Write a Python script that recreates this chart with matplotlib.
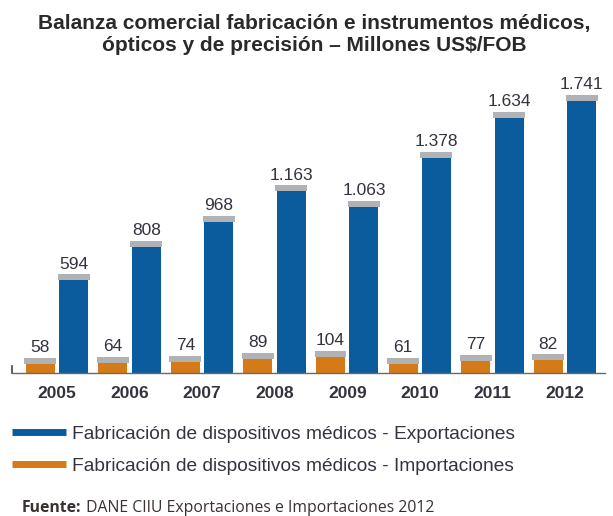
import matplotlib
matplotlib.use("Agg")
import matplotlib.pyplot as plt
from matplotlib import font_manager
from matplotlib.lines import Line2D
from matplotlib.text import Annotation
import numpy as np

years = ["2005", "2006", "2007", "2008", "2009", "2010", "2011", "2012"]
exportaciones = [594, 808, 968, 1163, 1063, 1378, 1634, 1741]
importaciones = [58, 64, 74, 89, 104, 61, 77, 82]
export_labels = ["594", "808", "968", "1.163", "1.063", "1.378", "1.634", "1.741"]
import_labels = ["58", "64", "74", "89", "104", "61", "77", "82"]

names = {f.name for f in font_manager.fontManager.ttflist}
narrow = "Liberation Sans Narrow" if "Liberation Sans Narrow" in names else "Liberation Sans"

BLUE = "#0b5c9c"
ORANGE = "#d47a17"
GREY = "#b1b2b6"
TXT = "#333340"

fig = plt.figure(figsize=(6.13, 5.16), dpi=100)
ax = fig.add_axes([0.0196, 0.277, 0.967, 0.6056])

x = np.arange(len(years))
w = 0.40
off = 0.23
cap = 38
ax.bar(x - off, importaciones, width=w, color=ORANGE, zorder=2)
ax.bar(x + off, exportaciones, width=w, color=BLUE, zorder=2)
ax.bar(x - off, cap, width=w + 0.04, bottom=importaciones, color=GREY, zorder=3)
ax.bar(x + off, cap, width=w + 0.04, bottom=exportaciones, color=GREY, zorder=3)

for xi, v, lab in zip(x, importaciones, import_labels):
    ax.annotate(lab, (xi - off, v + cap), xytext=(0, 2), textcoords="offset points",
                ha="center", va="bottom", fontsize=12.5, color=TXT, family=narrow)
for xi, v, lab in zip(x, exportaciones, export_labels):
    ax.annotate(lab, (xi + off, v + cap), xytext=(0, 2), textcoords="offset points",
                ha="center", va="bottom", fontsize=12.5, color=TXT, family=narrow)

ax.set_xlim(-0.62, 7.55)
ax.set_ylim(0, 2000)
ax.set_xticks(x)
ax.set_xticklabels(years, fontsize=12.5, fontweight="bold", color=TXT, family="Liberation Sans")
ax.tick_params(axis="x", length=0, pad=9)
ax.set_yticks([])
for s in ["top", "right"]:
    ax.spines[s].set_visible(False)
ax.spines["bottom"].set_color("#6a6a6a")
ax.spines["bottom"].set_linewidth(1.0)
ax.spines["left"].set_bounds(0, 45)
ax.spines["left"].set_color("#444444")
ax.spines["left"].set_linewidth(1.2)

fig.text(0.512, 0.934, "Balanza comercial fabricación e instrumentos médicos,\nópticos y de precisión – Millones US$/FOB",
         ha="center", va="center", fontsize=15, fontweight="bold", color="#2a2a2a",
         family=narrow, linespacing=1.2)

handles = [Line2D([0], [0], color=BLUE, lw=5, solid_capstyle="butt"),
           Line2D([0], [0], color=ORANGE, lw=5, solid_capstyle="butt")]
leg = fig.legend(handles, ["Fabricación de dispositivos médicos - Exportaciones",
                           "Fabricación de dispositivos médicos - Importaciones"],
                 loc="upper left", bbox_to_anchor=(0.02, 0.175), frameon=False,
                 borderpad=0, borderaxespad=0,
                 handlelength=2.8, handletextpad=0.3, labelspacing=0.75,
                 prop={"family": narrow, "size": 13.8})
for t in leg.get_texts():
    t.set_color(TXT)

t1 = fig.text(0.036, 0.0, "Fuente:", ha="left", va="bottom", fontsize=11.3, fontweight="bold",
              color="#3a3030", family="Open Sans")
fig.add_artist(Annotation(" DANE CIIU Exportaciones e Importaciones 2012",
                          xy=(1, 0), xycoords=t1, ha="left", va="bottom",
                          fontsize=11.3, color="#3a3030", family="Open Sans"))

fig.savefig("out.png", dpi=100)
